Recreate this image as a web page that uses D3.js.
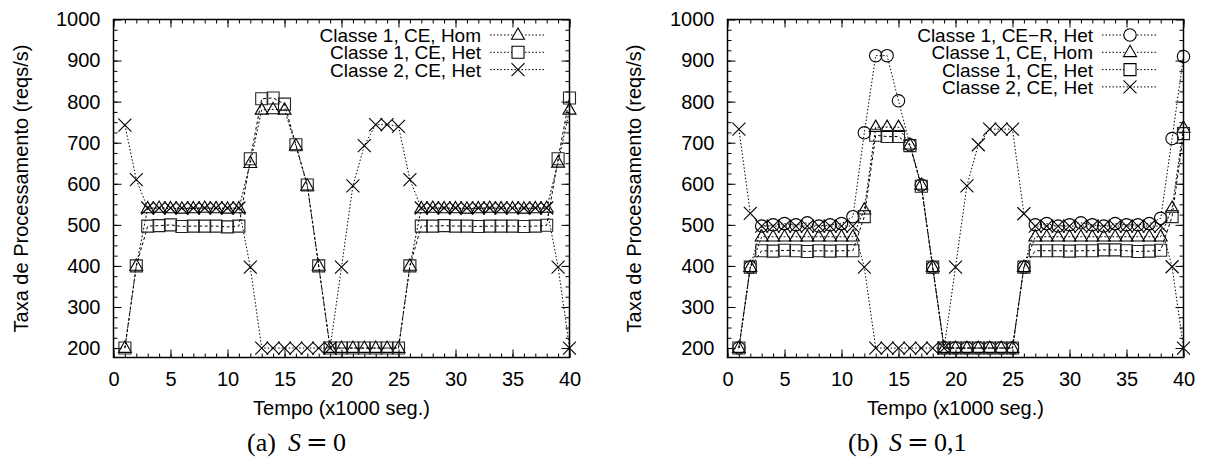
<!DOCTYPE html>
<html>
<head>
<meta charset="utf-8">
<script src="https://cdn.jsdelivr.net/npm/d3@7"></script>
<style>
  html, body { margin: 0; padding: 0; background: #fff; }
  svg { display: block; }
  text { font-family: "Liberation Sans", Arial, Helvetica, sans-serif; fill: #000; }
  text.cap { font-family: "Liberation Serif", "Times New Roman", serif; }
  text.cap tspan.eq { font-family: "DejaVu Serif", serif; }
</style>
</head>
<body>
<svg id="fig" width="1212" height="459"></svg>
<script>
// Sampling instants (x1000 s)
const tempo = [1, 2, 3, 4, 5, 6, 7, 8, 9, 10,
               11, 12, 13, 14, 15, 16, 17, 18, 19, 20,
               21, 22, 23, 24, 25, 26, 27, 28, 29, 30,
               31, 32, 33, 34, 35, 36, 37, 38, 39, 40];

const xTickLabels = [0, 5, 10, 15, 20, 25, 30, 35, 40];
const yTickLabels = [200, 300, 400, 500, 600, 700, 800, 900, 1000];

// (a) S = 0
const aClasse1Hom = [200, 400,
  540, 541, 540, 539, 540, 541, 540, 539, 540,
  650, 780, 781, 780, 693, 595, 400,
  200, 200, 200, 200, 200, 200, 200,
  400,
  540, 541, 540, 540, 539, 540, 541, 540, 540, 539, 540, 541,
  651, 780];
const aClasse1Het = [200, 400,
  497, 498, 500, 496, 497, 497, 497, 495, 497,
  661, 807, 809, 794, 695, 597, 400,
  200, 200, 200, 200, 200, 200, 200,
  400,
  497, 497, 498, 497, 497, 496, 497, 497, 497, 496, 497, 499,
  661, 809];
const aClasse2Het = [743, 610,
  541, 541, 541, 541, 541, 541, 541, 541, 541,
  397,
  200, 200, 200, 200, 200, 200, 200,
  397, 595, 693, 744, 744, 740, 610,
  541, 541, 541, 541, 541, 541, 541, 541, 541, 541, 541, 541,
  397, 200];

// (b) S = 0,1
const bClasse1CER = [200, 397,
  497, 500, 503, 500, 505, 497, 500, 503,
  520,
  724, 912, 912, 802, 695, 597, 397,
  200, 200, 200, 200, 200, 200, 200,
  397,
  500, 503, 497, 500, 505, 500, 497, 503, 500, 500, 503,
  516,
  710, 910];
const bClasse1Hom = [200, 397,
  471, 471, 471, 471, 471, 471, 471, 471, 471,
  537, 738, 738, 738, 695, 597, 397,
  200, 200, 200, 200, 200, 200, 200,
  397,
  471, 471, 471, 471, 471, 471, 471, 471, 471, 471, 471, 471,
  541, 736];
const bClasse1Het = [200, 397,
  437, 436, 438, 437, 435, 437, 436, 437, 437,
  520, 718, 715, 715, 693, 594, 397,
  200, 200, 200, 200, 200, 200, 200,
  397,
  437, 437, 437, 436, 437, 437, 439, 439, 437, 435, 436, 438,
  520, 722];
const bClasse2Het = [733, 528,
  497, 497, 497, 497, 497, 497, 497, 497, 497,
  397,
  200, 200, 200, 200, 200, 200, 200,
  397, 595, 695, 733, 733, 733, 527,
  497, 497, 497, 497, 497, 497, 497, 497, 497, 497, 497, 497,
  398, 200];

const legendA = ["Classe 1, CE, Hom", "Classe 1, CE, Het", "Classe 2, CE, Het"];
const legendB = ["Classe 1, CE\u2212R, Het", "Classe 1, CE, Hom", "Classe 1, CE, Het", "Classe 2, CE, Het"];

const yTitle = "Taxa de Processamento (reqs/s)";
const xTitle = "Tempo (x1000 seg.)";

const svg = d3.select("#fig");
const FONT = 20;
const KEY_FONT = 19;

// open point symbols, drawn as outline paths around (0,0)
const symbolPath = {
  triangle: "M0,-7L6.5,4.3L-6.5,4.3Z",
  square: "M-6,-6H6V6H-6Z",
  circle: "M6.2,0A6.2,6.2 0 1,1 -6.2,0A6.2,6.2 0 1,1 6.2,0Z",
  cross: "M-6.5,-6.5L6.5,6.5M-6.5,6.5L6.5,-6.5"
};

function drawPanel(p) {
  const x = d3.scaleLinear().domain([0, 40]).range([p.left, p.right]);
  const y = d3.scaleLinear().domain([177, 1000]).range([p.bottom, p.top]);
  const g = svg.append("g");

  const xMinor = d3.range(0, 41, 1);
  const yMinor = d3.range(200, 1000, 25);

  const styleAxis = sel => {
    sel.select(".domain").remove();
    sel.selectAll(".tick line").attr("stroke", "#000").attr("stroke-width", 1);
    sel.selectAll(".tick text").attr("font-size", FONT).attr("fill", "#000");
  };

  // minor ticks on all four sides
  g.append("g").attr("transform", `translate(0,${p.bottom})`)
    .call(d3.axisBottom(x).tickValues(xMinor).tickSize(-4).tickFormat("")).call(styleAxis);
  g.append("g").attr("transform", `translate(0,${p.top})`)
    .call(d3.axisTop(x).tickValues(xMinor).tickSize(-4).tickFormat("")).call(styleAxis);
  g.append("g").attr("transform", `translate(${p.left},0)`)
    .call(d3.axisLeft(y).tickValues(yMinor).tickSize(-4).tickFormat("")).call(styleAxis);
  g.append("g").attr("transform", `translate(${p.right},0)`)
    .call(d3.axisRight(y).tickValues(yMinor).tickSize(-4).tickFormat("")).call(styleAxis);

  // major ticks with labels
  g.append("g").attr("transform", `translate(0,${p.bottom})`)
    .call(d3.axisBottom(x).tickValues(xTickLabels).tickSize(-8).tickPadding(14).tickFormat(d3.format("d")))
    .call(styleAxis);
  g.append("g").attr("transform", `translate(0,${p.top})`)
    .call(d3.axisTop(x).tickValues(xTickLabels).tickSize(-8).tickFormat("")).call(styleAxis);
  g.append("g").attr("transform", `translate(${p.left},0)`)
    .call(d3.axisLeft(y).tickValues(yTickLabels).tickSize(-8).tickPadding(13).tickFormat(d3.format("d")))
    .call(styleAxis);
  g.append("g").attr("transform", `translate(${p.right},0)`)
    .call(d3.axisRight(y).tickValues(yTickLabels).tickSize(-8).tickFormat("")).call(styleAxis);

  // series: dotted connecting line then open markers
  const line = d3.line().x(d => x(d[0])).y(d => y(d[1]));
  p.series.forEach(s => {
    const pts = tempo.map((t, i) => [t, s.values[i]]);
    g.append("path").datum(pts).attr("d", line)
      .attr("fill", "none").attr("stroke", "#000").attr("stroke-width", 1)
      .attr("stroke-dasharray", s.dash);
    g.append("g").selectAll("path").data(pts).join("path")
      .attr("transform", d => `translate(${x(d[0])},${y(d[1])})`)
      .attr("d", symbolPath[s.symbol])
      .attr("fill", "none").attr("stroke", s.color).attr("stroke-width", 1.1);
  });

  // frame
  g.append("rect").attr("x", p.left).attr("y", p.top)
    .attr("width", p.right - p.left).attr("height", p.bottom - p.top)
    .attr("fill", "none").attr("stroke", "#000").attr("stroke-width", 1.5);

  // key
  p.series.forEach((s, i) => {
    const by = p.keyTop + i * 17.3;
    g.append("text").attr("x", p.keyTextRight).attr("y", by)
      .attr("text-anchor", "end").attr("font-size", KEY_FONT).text(p.labels[i]);
    const cy = by - 7;
    g.append("line").attr("x1", p.keyTextRight + 9).attr("x2", p.keyTextRight + 64)
      .attr("y1", cy).attr("y2", cy)
      .attr("stroke", "#000").attr("stroke-width", 1).attr("stroke-dasharray", "1.5,2");
    g.append("path").attr("transform", `translate(${p.keyTextRight + 37},${cy})`)
      .attr("d", symbolPath[s.symbol])
      .attr("fill", "#fff").attr("stroke", "#000").attr("stroke-width", 1.1);
  });

  // axis titles
  g.append("text")
    .attr("transform", `translate(${p.yTitleX},${(p.top + p.bottom) / 2}) rotate(-90)`)
    .attr("text-anchor", "middle").attr("font-size", FONT).text(yTitle);
  g.append("text").attr("x", (p.left + p.right) / 2).attr("y", 415)
    .attr("text-anchor", "middle").attr("font-size", FONT).text(xTitle);

  // sub-caption: "(a) S = 0"
  const cap = g.append("text").attr("class", "cap").attr("y", 451).attr("font-size", 26);
  cap.append("tspan").attr("x", p.capX).text(p.capTag);
  cap.append("tspan").attr("x", p.capX + 41).attr("font-style", "italic").text("S");
  cap.append("tspan").attr("class", "eq").attr("x", p.capX + 59).text("=");
  cap.append("tspan").attr("x", p.capX + 86).text(p.capValue);
}

drawPanel({
  left: 113.5, right: 569.5, top: 19.5, bottom: 357.5,
  yTitleX: 28, capX: 247, capTag: "(a)", capValue: "0",
  keyTextRight: 481, keyTop: 42, labels: legendA,
  series: [
    { values: aClasse1Hom, symbol: "triangle", dash: "2,2", color: "#000" },
    { values: aClasse1Het, symbol: "square", dash: "3,2.5", color: "#222" },
    { values: aClasse2Het, symbol: "cross", dash: "1.5,2", color: "#000" }
  ]
});

drawPanel({
  left: 727.5, right: 1183.5, top: 19.5, bottom: 357.5,
  yTitleX: 641, capX: 848, capTag: "(b)", capValue: "0,1",
  keyTextRight: 1093, keyTop: 42, labels: legendB,
  series: [
    { values: bClasse1CER, symbol: "circle", dash: "1.5,2", color: "#000" },
    { values: bClasse1Hom, symbol: "triangle", dash: "2,2", color: "#000" },
    { values: bClasse1Het, symbol: "square", dash: "3,2.5", color: "#222" },
    { values: bClasse2Het, symbol: "cross", dash: "1.5,2", color: "#000" }
  ]
});
</script>
</body>
</html>
